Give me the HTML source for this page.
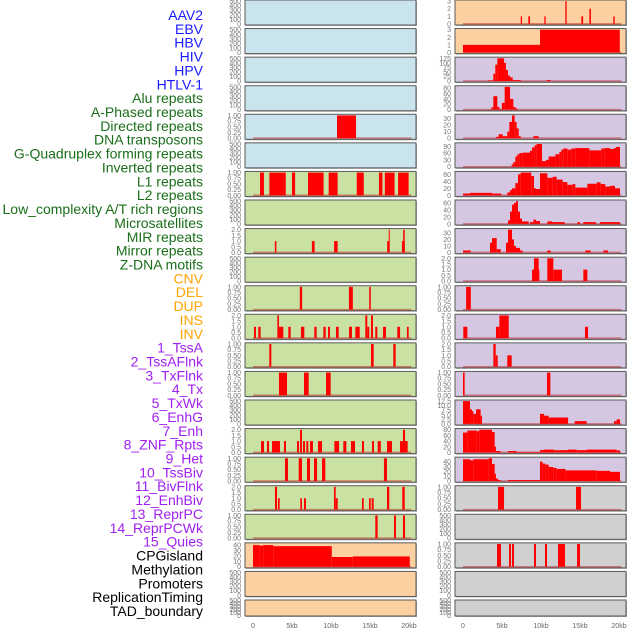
<!DOCTYPE html>
<html><head><meta charset="utf-8"><style>
html,body{margin:0;padding:0;background:#fff;width:630px;height:630px;overflow:hidden}
svg{display:block}
</style></head><body>
<svg id="chart" width="630" height="630" xmlns="http://www.w3.org/2000/svg"></svg>
<script>
// ---- Track labels ----
const labelNames = ["AAV2","EBV","HBV","HIV","HPV","HTLV-1","Alu repeats","A-Phased repeats","Directed repeats","DNA transposons","G-Quadruplex forming repeats","Inverted repeats","L1 repeats","L2 repeats","Low_complexity A/T rich regions","Microsatellites","MIR repeats","Mirror repeats","Z-DNA motifs","CNV","DEL","DUP","INS","INV","1_TssA","2_TssAFlnk","3_TxFlnk","4_Tx","5_TxWk","6_EnhG","7_Enh","8_ZNF_Rpts","9_Het","10_TssBiv","11_BivFlnk","12_EnhBiv","13_ReprPC","14_ReprPCWk","15_Quies","CPGisland","Methylation","Promoters","ReplicationTiming","TAD_boundary"];
const labelGroups = [6,13,5,15,5];
const groupColors = ["#1a1aff","#1a6e1a","#ffa500","#a020f0","#000000"];

// ---- X axis ----
const xTickValues = [0,5,10,15,20];
const xTickLabels = ["0","5kb","10kb","15kb","20kb"];

// ---- Left column panel data: [startKb, endKb, value] ----
const leftL1 = [[0.9,1.4,1],[2.1,4.2,1],[5.0,5.4,1],[7.05,9.05,1],[9.7,10.85,1],[13.3,14.2,1],[16.15,16.6,1],[16.9,18.15,1],[18.6,19.95,1]];
const leftDirected = [[10.77,13.21,1]];
const leftMIR = [[2.8,3.0,1],[7.55,7.9,1],[10.4,10.85,1],[17.2,17.5,1],[17.4,17.5,2],[19.1,19.45,1],[19.25,19.45,2]];
const leftDEL = [[6.0,6.3,1],[12.3,12.8,1],[14.9,15.1,1]];
const leftINS = [[0.13,0.38,1],[0.68,0.98,1],[3.12,3.33,2],[3.33,3.89,1],[4.53,4.83,1],[6.15,6.58,1],[7.86,8.16,1],[9.02,9.32,1],[9.62,9.87,1],[10.64,10.98,1],[12.31,12.69,1],[13.12,13.68,1],[14.4,14.65,2],[14.65,14.91,1],[15.13,15.38,2],[15.68,15.94,1],[16.67,17.05,1],[18.5,18.85,1],[19.74,19.96,1]];
const leftINV = [[2.09,2.35,1],[15.13,15.47,1],[17.99,18.29,1]];
const leftTssA = [[3.33,4.36,1],[6.54,7.14,1],[9.36,9.96,1]];
const leftTxWk = [[1.03,1.41,1],[1.79,2.05,1],[2.44,3.46,1],[3.97,4.23,1],[5.64,5.9,1],[6.03,6.28,2],[6.41,6.67,1],[6.84,7.09,1],[7.31,7.69,1],[8.33,8.85,1],[10.43,11.03,1],[11.58,11.97,1],[12.56,13.08,1],[13.97,14.23,1],[15.26,15.51,1],[15.99,16.38,1],[17.18,17.82,1],[18.85,19.83,1],[19.23,19.49,2]];
const leftEnh = [[4.1,4.49,1],[5.86,6.28,1],[6.92,7.31,1],[7.82,8.21,1],[8.85,9.27,1],[16.79,17.18,1]];
const leftZNF = [[2.82,3.08,2],[3.2,3.42,1],[6.07,6.28,1],[6.54,6.79,1],[10.38,10.6,2],[10.6,10.86,1],[13.97,14.19,1],[14.87,15.09,1],[15.21,15.47,1],[17.18,17.47,2],[19.14,19.45,2]];
const leftHet = [[15.68,15.98,1],[18.08,18.33,1],[19.23,19.49,1]];
const leftCPG = [[0,0.85,40],[0.85,1.3,39],[1.3,2.6,40],[2.6,10.1,38],[10.1,12.8,18],[12.8,20.1,19]];

// ---- Right column panel data ----
const rightAAV2 = [[7.4,7.56,1],[8.38,8.59,1],[10.43,10.6,1],[13.12,13.29,3],[15.17,15.4,1],[16.2,16.4,2],[19.27,19.45,1]];
const rightEBV = [[0,9.87,1],[9.87,20.1,3]];
const rightHBV = [[3.2,3.89,3],[3.89,4.14,40],[4.14,4.4,90],[4.4,5.26,125],[5.26,5.51,100],[5.51,5.77,60],[5.77,6.03,30],[6.03,6.37,20],[6.37,7.4,5],[10.73,11.24,5]];
const rightHIV = [[3.63,3.89,8],[3.89,4.4,50],[4.4,4.65,10],[4.65,4.99,3],[4.99,5.34,25],[5.34,6.03,85],[6.03,6.45,40],[6.45,6.71,10],[6.71,6.97,5]];
const rightHPV = [[4.23,4.57,2],[4.57,5.09,6],[5.09,5.68,3],[5.68,5.94,10],[5.94,6.28,25],[6.28,6.62,35],[6.62,6.88,25],[6.88,7.14,15],[7.14,7.4,3],[9.02,9.7,3]];
const rightHTLV = [[6.24,6.45,10],[6.45,6.71,20],[6.71,6.97,45],[6.97,7.22,55],[7.22,7.65,60],[7.65,8.59,62],[8.59,8.85,70],[8.85,9.19,85],[9.19,9.44,95],[9.44,10.13,100],[10.13,10.64,25],[10.64,10.98,30],[10.98,11.84,45],[11.84,12.35,55],[12.35,12.6,65],[12.6,12.86,75],[12.86,13.38,80],[13.38,13.89,75],[13.89,14.4,80],[14.4,16.2,82],[16.2,17.74,72],[17.74,18.17,80],[18.17,18.85,82],[18.85,19.36,78],[19.36,19.62,82],[19.62,20.13,87]];
const rightAlu = [[0,0.9,5],[0.9,3.72,7],[3.72,4.91,5],[5.68,6.03,8],[6.03,6.28,15],[6.28,6.71,20],[6.71,7.05,35],[7.05,7.39,60],[7.39,8.76,65],[8.76,9.1,55],[9.1,9.36,20],[9.36,9.87,18],[9.87,10.81,63],[10.81,11.5,50],[11.5,12.01,53],[12.01,12.78,45],[12.78,13.38,38],[13.38,14.06,30],[14.06,14.4,32],[14.4,15.94,22],[15.94,17.14,33],[17.14,17.65,37],[17.65,18.25,32],[18.25,18.85,25],[18.85,19.49,27],[19.49,20.13,20]];
const rightAPhased = [[5.77,6.03,10],[6.03,6.28,35],[6.28,6.54,55],[6.54,6.8,60],[6.8,7.05,65],[7.05,7.31,35],[7.31,7.56,15],[7.56,8.42,7],[8.59,9.02,5],[9.02,9.36,12],[9.36,9.87,8],[10.81,11.41,7],[11.41,13.04,5],[14.66,15.0,5],[15.43,17.05,5],[17.56,20.13,5]];
const rightDirected = [[0,0.98,3],[3.46,3.72,15],[3.72,4.32,22],[4.32,4.83,5],[5.51,5.77,15],[5.77,6.28,35],[6.28,6.54,20],[6.54,6.8,10],[6.8,7.31,7],[7.31,7.65,3],[10.81,11.24,3],[15.68,16.37,3],[17.99,18.59,3]];
const rightDNA = [[8.85,9.79,1],[9.1,9.7,2],[10.81,11.58,2],[11.58,12.69,1],[15.43,15.94,1]];
const rightGQuad = [[0.4,1.0,1]];
const rightInverted = [[0.04,0.56,1],[4.23,4.66,1],[4.66,5.86,2],[15.64,16.03,1]];
const rightL1 = [[3.89,4.19,2],[4.19,4.45,1],[5.68,6.24,1]];
const rightL2 = [[0,0.21,1],[10.77,11.2,1]];
const rightLowCx = [[0,0.9,12.5],[0.9,1.15,8],[1.15,1.32,7],[1.32,1.67,5.5],[1.67,2.26,8],[2.26,2.44,4.5],[9.87,10.38,5.5],[10.38,10.98,4.5],[10.98,13.47,3.5],[14.32,15.85,1.5],[19.36,19.7,1.5],[19.7,20.13,2.5]];
const rightMicro = [[0,0.56,70],[0.56,1.75,77],[1.75,2.09,75],[2.09,3.72,80],[3.72,4.06,72],[4.06,4.23,20],[4.23,4.83,5],[5.77,6.88,5],[6.88,9.87,2],[9.87,10.3,8],[10.3,11.67,10],[11.67,13.47,8],[13.47,14.58,10],[14.58,15.85,8],[15.85,19.7,10],[19.7,20.13,7]];
const rightMIR = [[0,0.9,45],[0.9,1.32,43],[1.32,3.29,45],[3.29,3.72,47],[3.72,4.06,35],[4.06,4.23,15],[4.23,4.49,5],[4.49,4.83,2],[5.77,9.87,2],[9.87,10.21,40],[10.21,10.56,36],[10.56,10.98,34],[10.98,11.58,29],[11.58,12.01,27],[12.01,13.13,25],[13.13,17.14,22],[17.14,18.85,21],[18.85,20.13,19]];
const rightMirror = [[4.49,5.26,1],[14.49,15.13,1]];
const rightCNV = [[4.36,4.87,1],[5.9,6.15,1],[6.28,6.54,1],[9.1,9.36,1],[10.51,10.77,1],[12.18,13.08,1],[14.62,15.0,1]];

// ---- Axis scale presets: ymax and tick labels ----
const tEmpty = ["0","100","200","300","400","500"];
const t1 = ["0.00","0.25","0.50","0.75","1.00"];
const t2 = ["0.0","0.5","1.0","1.5","2.0"];
const t3 = ["0","1","2","3"];
const t40 = ["0","10","20","30","40"];
const t125 = ["0","25","50","75","100","125"];
const t80 = ["0","20","40","60","80"];
const t30 = ["0","10","20","30"];
const t90 = ["0","30","60","90"];
const t60 = ["0","20","40","60"];
const t125b = ["0.0","2.5","5.0","7.5","10.0","12.5"];

const BLUE="#c9e4ec", GREEN="#c9e1a3", PEACH="#fdd0a1", LAV="#d5c6e2", GREY="#d0d0d0";

// col, row, bg, ymax, ticks, data
const panels = [
 [0,0,BLUE,500,tEmpty,null],[0,1,BLUE,500,tEmpty,null],[0,2,BLUE,500,tEmpty,null],[0,3,BLUE,500,tEmpty,null],
 [0,4,BLUE,1,t1,leftDirected],[0,5,BLUE,500,tEmpty,null],[0,6,GREEN,1,t1,leftL1],[0,7,GREEN,500,tEmpty,null],
 [0,8,GREEN,2,t2,leftMIR],[0,9,GREEN,500,tEmpty,null],[0,10,GREEN,1,t1,leftDEL],[0,11,GREEN,2,t2,leftINS],
 [0,12,GREEN,1,t1,leftINV],[0,13,GREEN,1,t1,leftTssA],[0,14,GREEN,500,tEmpty,null],[0,15,GREEN,2,t2,leftTxWk],
 [0,16,GREEN,1,t1,leftEnh],[0,17,GREEN,2,t2,leftZNF],[0,18,GREEN,1,t1,leftHet],[0,19,PEACH,42,t40,leftCPG],
 [0,20,PEACH,500,tEmpty,null],[0,21,PEACH,500,tEmpty,null],
 [1,0,PEACH,3,t3,rightAAV2],[1,1,PEACH,3,t3,rightEBV],[1,2,LAV,125,t125,rightHBV],[1,3,LAV,85,t80,rightHIV],
 [1,4,LAV,35,t30,rightHPV],[1,5,LAV,100,t90,rightHTLV],[1,6,LAV,65,t60,rightAlu],[1,7,LAV,65,t60,rightAPhased],
 [1,8,LAV,35,t30,rightDirected],[1,9,LAV,2,t2,rightDNA],[1,10,LAV,1,t1,rightGQuad],[1,11,LAV,2,t2,rightInverted],
 [1,12,LAV,2,t2,rightL1],[1,13,LAV,1,t1,rightL2],[1,14,LAV,12.5,t125b,rightLowCx],[1,15,LAV,80,t80,rightMicro],
 [1,16,LAV,47,t40,rightMIR],[1,17,GREY,1,t1,rightMirror],[1,18,GREY,500,tEmpty,null],[1,19,GREY,1,t1,rightCNV],
 [1,20,GREY,500,tEmpty,null],[1,21,GREY,500,tEmpty,null]
];

const NS="http://www.w3.org/2000/svg";
const svg=document.getElementById('chart');
function mk(tag,attrs,parent){const e=document.createElementNS(NS,tag);for(const k in attrs)e.setAttribute(k,attrs[k]);(parent||svg).appendChild(e);return e;}

const colX=[245,455], panelW=171, rowStep=600/21;
function xScale(col,kb){return colX[col]+8+kb*7.8;}
function panelTop(row){return row*rowStep;}
function panelH(row){return row===21?16:25;}
function yScale(row,ymax,v){const t=panelTop(row),h=panelH(row);return t+h-(v+0.05*ymax)/(1.1*ymax)*h;}

// labels
let li=0;
labelGroups.forEach((n,g)=>{for(let k=0;k<n;k++){
 const t=mk('text',{x:203,y:20+li*13.86,'text-anchor':'end','font-family':'Liberation Sans, sans-serif','font-size':'14',fill:groupColors[g]});
 t.textContent=labelNames[li];
 
 
 li++;}});

panels.forEach(p=>{
 const [col,row,bg,ymax,ticks,data]=p;
 const g=mk('g',{});
 
 
 const top=panelTop(row),h=panelH(row),x0=colX[col];
 mk('rect',{x:x0+1,y:top+1,width:panelW,height:h,fill:'#a8a8a8'},g);
 const bgr=mk('rect',{x:x0,y:top,width:panelW,height:h,fill:bg,stroke:'#5a5a5a','stroke-width':1},g);
 
 
 ticks.forEach((lab,i)=>{
  const v=ymax*0+parseFloat(lab);
  const tt=mk('text',{x:x0-4,y:yScale(row,ymax,v)+2.5,'text-anchor':'end','font-family':'Liberation Sans, sans-serif','font-size':'7',fill:'#777'},g);
  tt.textContent=lab;
  
  
 });
 if(data){
  const base=mk('line',{x1:xScale(col,0),x2:xScale(col,20.3),y1:yScale(row,ymax,0),y2:yScale(row,ymax,0),stroke:'rgba(190,40,40,0.55)','stroke-width':1.5},g);
  
  
  data.forEach(d=>{
   const xa=xScale(col,d[0]),xb=xScale(col,d[1]);
   const ya=yScale(row,ymax,d[2]),yb=yScale(row,ymax,0);
   const r=mk('rect',{x:xa,y:ya,width:Math.max(1,xb-xa),height:yb-ya,fill:'#ff0000'},g);
   
   
  });
 }
});

[0,1].forEach(col=>{
 xTickValues.forEach((v,i)=>{
  const t=mk('text',{x:xScale(col,v),y:628,'text-anchor':'middle','font-family':'Liberation Sans, sans-serif','font-size':'7',fill:'#666'});
  t.textContent=xTickLabels[i];
  
  
 });
});
</script>
</body></html>
